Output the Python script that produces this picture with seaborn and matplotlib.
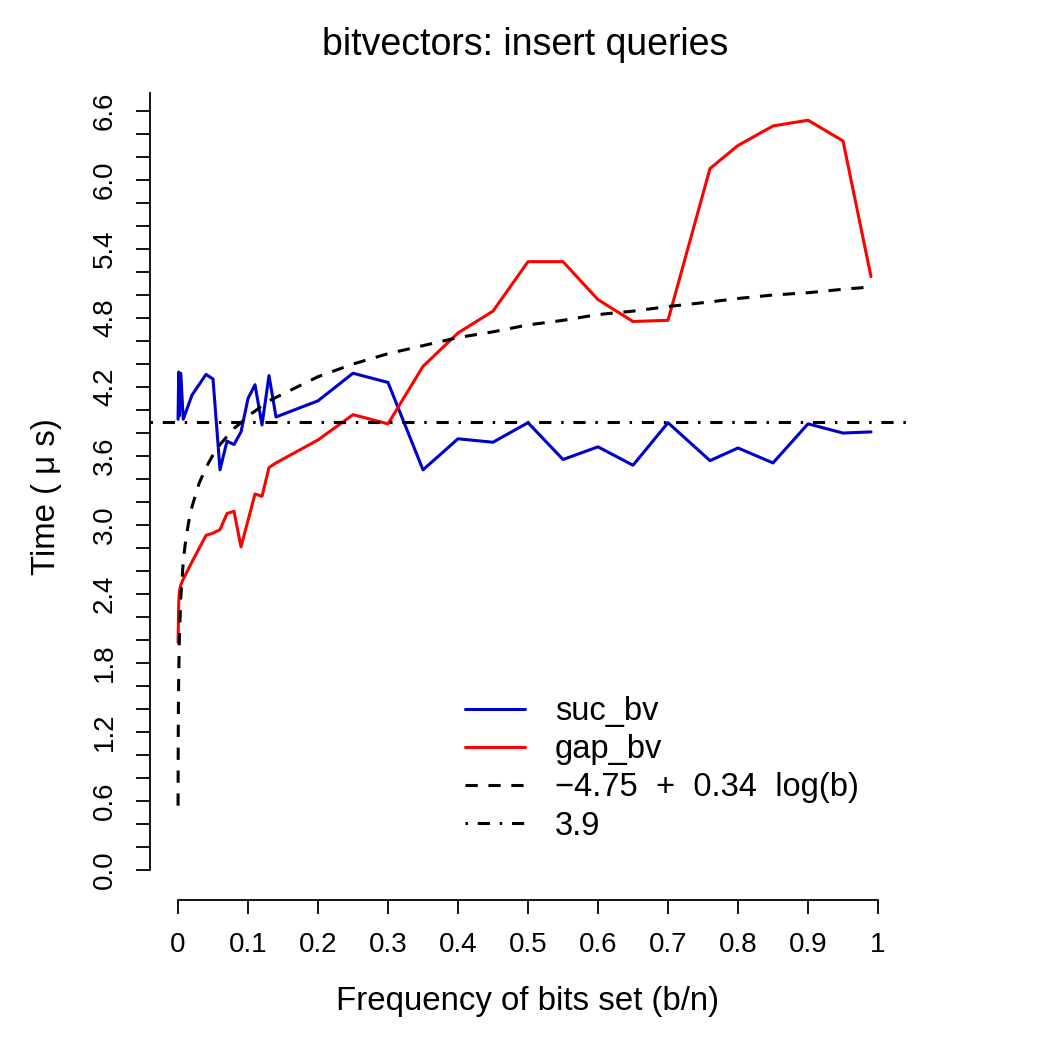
import numpy as np
import matplotlib
matplotlib.use('Agg')
import matplotlib.pyplot as plt
import seaborn as sns
import pandas as pd

suc_x = [0.0001, 0.001, 0.002, 0.004, 0.0075, 0.02, 0.04, 0.05, 0.06, 0.07, 0.08, 0.09, 0.1, 0.11,
         0.12, 0.13, 0.14, 0.2, 0.25, 0.3, 0.35, 0.4, 0.45, 0.5, 0.55, 0.6, 0.65, 0.7, 0.76, 0.8,
         0.85, 0.9, 0.95, 0.99]
suc_y = [3.92, 4.33, 3.95, 4.32, 3.92, 4.13, 4.31, 4.27, 3.48, 3.73, 3.70, 3.81, 4.10, 4.22,
         3.87, 4.30, 3.94, 4.08, 4.32, 4.24, 3.48, 3.75, 3.72, 3.89, 3.57, 3.68, 3.52, 3.89, 3.56, 3.67,
         3.54, 3.88, 3.80, 3.81]

gap_x = suc_x
gap_y = [1.98, 2.32, 2.42, 2.48, 2.53, 2.68, 2.91, 2.93, 2.96, 3.10, 3.12, 2.81, 3.04, 3.27,
         3.25, 3.50, 3.54, 3.74, 3.96, 3.88, 4.38, 4.67, 4.86, 5.29, 5.29, 4.96, 4.77, 4.78, 6.10, 6.30,
         6.47, 6.52, 6.34, 5.16]

fit_x = [0.0001, 0.0003, 0.0005, 0.001, 0.002, 0.004, 0.0075, 0.01, 0.015, 0.02, 0.03, 0.04, 0.05,
         0.06, 0.07, 0.08, 0.09, 0.1, 0.11, 0.12, 0.13, 0.14, 0.2, 0.25, 0.3, 0.35, 0.4, 0.45, 0.5,
         0.55, 0.6, 0.65, 0.7, 0.76, 0.8, 0.85, 0.9, 0.95, 0.99]
fit_y = [0.56, 1.10, 1.35, 1.69, 2.03, 2.37, 2.68, 2.82, 3.02, 3.16, 3.36, 3.50, 3.61,
         3.70, 3.77, 3.84, 3.89, 3.95, 3.99, 4.04, 4.08, 4.11, 4.29, 4.40, 4.49, 4.56, 4.63, 4.68, 4.74,
         4.78, 4.83, 4.86, 4.90, 4.94, 4.97, 5.00, 5.02, 5.05, 5.07]

const_y = 3.9

labels = ['suc_bv', 'gap_bv', '\u22124.75  +  0.34  log(b)', '3.9']
x_ticks = [0, 0.1, 0.2, 0.3, 0.4, 0.5, 0.6, 0.7, 0.8, 0.9, 1]
x_ticklabels = ['0', '0.1', '0.2', '0.3', '0.4', '0.5', '0.6', '0.7', '0.8', '0.9', '1']


def main():
    sns.set_style('white')
    plt.rcParams['font.family'] = ['Liberation Sans', 'DejaVu Sans']
    plt.rcParams['text.color'] = 'black'
    plt.rcParams['axes.labelcolor'] = 'black'
    plt.rcParams['xtick.color'] = 'black'
    plt.rcParams['ytick.color'] = 'black'

    df_suc = pd.DataFrame({'x': suc_x, 'y': suc_y})
    df_gap = pd.DataFrame({'x': gap_x, 'y': gap_y})
    df_fit = pd.DataFrame({'x': fit_x, 'y': fit_y})

    fig = plt.figure(figsize=(10.5, 10.5), dpi=100)
    ax = fig.add_axes([150 / 1050, 1 - 900 / 1050, 756 / 1050, 807.4 / 1050])

    lw = 2.2
    sns.lineplot(data=df_suc, x='x', y='y', ax=ax, color='#0000CD', lw=lw,
                 estimator=None, sort=False)
    sns.lineplot(data=df_gap, x='x', y='y', ax=ax, color='#FF0000', lw=lw,
                 estimator=None, sort=False)
    sns.lineplot(data=df_fit, x='x', y='y', ax=ax, color='black', lw=lw,
                 linestyle=(0, (4, 3.5)), estimator=None, sort=False)
    ax.axhline(const_y, color='black', lw=lw, linestyle=(0, (0.8, 3.2, 4, 3.2)))

    ax.set_xlim(-0.04, 1.04)
    ax.set_ylim(-0.26, 6.76)

    # 軸 (R風)
    for s in ['top', 'right']:
        ax.spines[s].set_visible(False)
    ax.spines['left'].set_bounds(0, 6.76)
    ax.spines['bottom'].set_bounds(0, 1)
    for s in ['left', 'bottom']:
        ax.spines[s].set_linewidth(1.3)
        ax.spines[s].set_color('black')

    ax.set_xticks(x_ticks)
    ax.set_xticklabels(x_ticklabels)
    y_ticks = np.round(np.arange(0, 6.61, 0.2), 1)
    ax.set_yticks(y_ticks)
    ax.set_yticklabels([f'{v:.1f}' if i % 3 == 0 else '' for i, v in enumerate(y_ticks)],
                       rotation=90, va='center')
    ax.tick_params(axis='both', direction='out', length=10, width=1.3, color='black',
                   labelsize=20, pad=13, left=True, bottom=True)

    ax.set_xlabel('Frequency of bits set (b/n)', fontsize=23.8, labelpad=20)
    ax.set_ylabel('Time ( \u03bc s)', fontsize=23.8, labelpad=22)
    fig.text(525 / 1050, 1 - 45 / 1050, 'bitvectors: insert queries', fontsize=27,
             ha='center', va='center')

    handles = ax.get_lines()[:4]
    ax.legend(handles, labels, frameon=False, fontsize=23.5, loc='upper left',
              bbox_to_anchor=((452 - 150) / 756, (900 - 683) / 807.4),
              handlelength=1.85, handletextpad=0.9, labelspacing=0.22, borderaxespad=0)

    fig.savefig('out.png', dpi=100)
    plt.close()


if __name__ == '__main__':
    main()
